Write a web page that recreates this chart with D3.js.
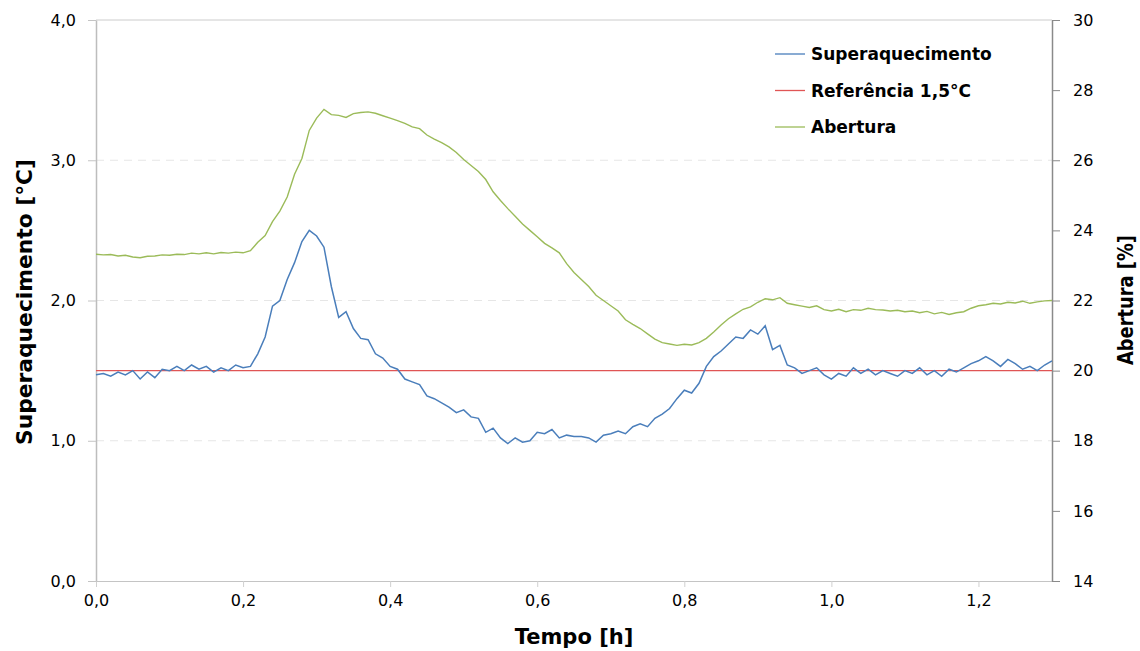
<!DOCTYPE html>
<html>
<head>
<meta charset="utf-8">
<script src="https://cdn.jsdelivr.net/npm/d3@7"></script>
<style>
  body { margin: 0; background: #fff; }
  text { font-family: "DejaVu Sans", sans-serif; }
</style>
</head>
<body>
<svg width="1140" height="651"></svg>
<script>
// tempo [h], passo 0,01
var tempo = d3.range(0, 131).map(function(i){ return i / 100 })

var superaquecimento = [
  1.47, 1.48, 1.46, 1.49, 1.47, 1.50, 1.44, 1.49, 1.45, 1.51,
  1.50, 1.53, 1.50, 1.54, 1.51, 1.53, 1.49, 1.52, 1.50, 1.54,
  1.52, 1.53, 1.62, 1.74, 1.96, 2.00, 2.15, 2.27, 2.42, 2.50,
  2.46, 2.38, 2.10, 1.88, 1.92, 1.80, 1.73, 1.72, 1.62, 1.59,
  1.53, 1.51, 1.44, 1.42, 1.40, 1.32, 1.30, 1.27, 1.24, 1.20,
  1.22, 1.17, 1.16, 1.06, 1.09, 1.02, 0.98, 1.02, 0.99, 1.00,
  1.06, 1.05, 1.08, 1.02, 1.04, 1.03, 1.03, 1.02, 0.99, 1.04,
  1.05, 1.07, 1.05, 1.10, 1.12, 1.10, 1.16, 1.19, 1.23, 1.30,
  1.36, 1.34, 1.41, 1.53, 1.60, 1.64, 1.69, 1.74, 1.73, 1.79,
  1.76, 1.82, 1.65, 1.68, 1.54, 1.52, 1.48, 1.50, 1.52, 1.47,
  1.44, 1.48, 1.46, 1.52, 1.48, 1.51, 1.47, 1.50, 1.48, 1.46,
  1.50, 1.48, 1.52, 1.47, 1.50, 1.46, 1.51, 1.49, 1.52, 1.55,
  1.57, 1.60, 1.57, 1.53, 1.58, 1.55, 1.51, 1.53, 1.50, 1.54,
  1.57
]

var abertura = [
  23.32, 23.30, 23.31, 23.27, 23.29, 23.24, 23.22, 23.26, 23.27, 23.30,
  23.29, 23.32, 23.31, 23.35, 23.33, 23.36, 23.33, 23.37, 23.35, 23.38,
  23.36, 23.42, 23.66, 23.85, 24.25, 24.55, 24.95, 25.60, 26.05, 26.85,
  27.20, 27.45, 27.30, 27.28, 27.22, 27.33, 27.36, 27.38, 27.34, 27.27,
  27.20, 27.13, 27.05, 26.95, 26.90, 26.72, 26.60, 26.50, 26.38, 26.22,
  26.02, 25.85, 25.68, 25.45, 25.10, 24.85, 24.62, 24.40, 24.18, 24.00,
  23.82, 23.63, 23.50, 23.36, 23.05, 22.80, 22.60, 22.40, 22.15, 22.00,
  21.85, 21.70, 21.45, 21.32, 21.20, 21.05, 20.90, 20.80, 20.76, 20.72,
  20.75, 20.73, 20.80, 20.92, 21.10, 21.30, 21.48, 21.62, 21.75, 21.82,
  21.95, 22.05, 22.02, 22.08, 21.92, 21.88, 21.84, 21.80, 21.85, 21.74,
  21.70, 21.75, 21.68, 21.74, 21.72, 21.78, 21.74, 21.73, 21.70, 21.72,
  21.68, 21.70, 21.65, 21.69, 21.62, 21.66, 21.60, 21.65, 21.68, 21.78,
  21.85, 21.88, 21.92, 21.90, 21.95, 21.93, 21.98, 21.92, 21.96, 21.99,
  22.00
]

var referencia = 1.5

var xTicks = [0, 0.2, 0.4, 0.6, 0.8, 1.0, 1.2]
var yTicks = [0, 1, 2, 3, 4]
var y2Ticks = [14, 16, 18, 20, 22, 24, 26, 28, 30]

var series = [
  {nome: 'Superaquecimento', cor: '#4a7ebb'},
  {nome: 'Referência 1,5°C', cor: '#e05555'},
  {nome: 'Abertura', cor: '#9bbb59'}
]

var pt = d3.formatLocale({decimal: ',', thousands: '.', grouping: [3], currency: ['R$', '']})
var f1 = pt.format('.1f')

var svg = d3.select('svg')
var pLeft = 96, pRight = 1052, pTop = 20, pBottom = 581

var x = d3.scaleLinear().domain([0, 1.3]).range([pLeft, pRight])
var y = d3.scaleLinear().domain([0, 4]).range([pBottom, pTop])
var y2 = d3.scaleLinear().domain([14, 30]).range([pBottom, pTop])

// grade
svg.append('g')
  .selectAll('line')
  .data([1, 2, 3])
  .enter()
  .append('line')
  .attr('x1', pLeft).attr('x2', pRight)
  .attr('y1', function(d){ return y(d) })
  .attr('y2', function(d){ return y(d) })
  .attr('stroke', '#e6e6e6')
  .attr('stroke-dasharray', '8,6')

svg.append('line')
  .attr('x1', pLeft).attr('x2', pRight)
  .attr('y1', y(4)).attr('y2', y(4))
  .attr('stroke', '#cccccc')

// eixos
var xAxis = svg.append('g')
  .attr('transform', 'translate(0,' + pBottom + ')')
  .call(d3.axisBottom(x).tickValues(xTicks).tickFormat(f1).tickSize(6).tickSizeOuter(0))
var yAxis = svg.append('g')
  .attr('transform', 'translate(' + pLeft + ',0)')
  .call(d3.axisLeft(y).tickValues(yTicks).tickFormat(f1).tickSize(8).tickSizeOuter(0))
var y2Axis = svg.append('g')
  .attr('transform', 'translate(' + pRight + ',0)')
  .call(d3.axisRight(y2).tickValues(y2Ticks).tickSize(8).tickSizeOuter(0))

xAxis.selectAll('line').attr('stroke', '#d0d0d0')
xAxis.select('.domain').attr('stroke', '#c4c4c4')
yAxis.selectAll('line').attr('stroke', '#c4c4c4')
yAxis.select('.domain').attr('stroke', '#bdbdbd').attr('stroke-width', 1.5)
y2Axis.selectAll('line').attr('stroke', '#8a8a8a')
y2Axis.select('.domain').attr('stroke', '#8a8a8a').attr('stroke-width', 1.5)

svg.selectAll('.tick text')
  .attr('font-family', '"DejaVu Sans", sans-serif')
  .attr('font-size', 16)
  .attr('fill', '#000')
xAxis.selectAll('.tick text').attr('dy', 16)
yAxis.selectAll('.tick text').attr('x', -20)
y2Axis.selectAll('.tick text').attr('x', 21)

// linhas
var linha = d3.line()
  .x(function(d){ return x(d[0]) })

svg.append('path')
  .datum(d3.zip(tempo, abertura))
  .attr('fill', 'none')
  .attr('stroke', series[2].cor)
  .attr('stroke-width', 1.4)
  .attr('d', linha.y(function(d){ return y2(d[1]) }))

svg.append('line')
  .attr('x1', x(0)).attr('x2', x(1.3))
  .attr('y1', y(referencia)).attr('y2', y(referencia))
  .attr('stroke', series[1].cor)
  .attr('stroke-width', 1.4)

svg.append('path')
  .datum(d3.zip(tempo, superaquecimento))
  .attr('fill', 'none')
  .attr('stroke', series[0].cor)
  .attr('stroke-width', 1.5)
  .attr('d', linha.y(function(d){ return y(d[1]) }))

// legenda
var leg = svg.append('g')
  .selectAll('g')
  .data(series)
  .enter()
  .append('g')
  .attr('transform', function(d, i){ return 'translate(775,' + (54 + i * 36.5) + ')' })
leg.append('line')
  .attr('x1', 0).attr('x2', 30)
  .attr('stroke', function(d){ return d.cor })
  .attr('stroke-width', 1.3)
leg.append('text')
  .attr('x', 36).attr('y', 6)
  .attr('font-size', 17).attr('font-weight', 'bold')
  .text(function(d){ return d.nome })

// titulos
svg.append('text')
  .attr('x', 574).attr('y', 644)
  .attr('text-anchor', 'middle')
  .attr('font-size', 21).attr('font-weight', 'bold')
  .text('Tempo [h]')

svg.append('text')
  .attr('transform', 'translate(32,302) rotate(-90)')
  .attr('text-anchor', 'middle')
  .attr('font-size', 21).attr('font-weight', 'bold')
  .attr('textLength', 286).attr('lengthAdjust', 'spacingAndGlyphs')
  .text('Superaquecimento [°C]')

svg.append('text')
  .attr('transform', 'translate(1133,300) rotate(-90)')
  .attr('text-anchor', 'middle')
  .attr('font-size', 21).attr('font-weight', 'bold')
  .attr('textLength', 130).attr('lengthAdjust', 'spacingAndGlyphs')
  .text('Abertura [%]')
</script>
</body>
</html>
